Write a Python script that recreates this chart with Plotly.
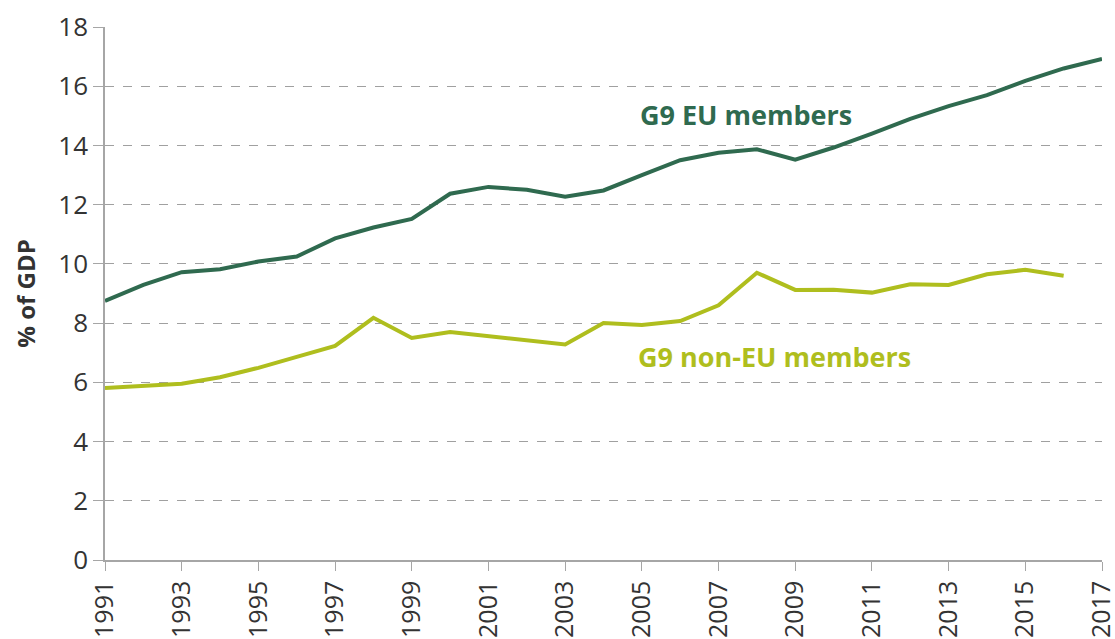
import plotly.graph_objects as go

years = list(range(1991, 2018))
eu_members = [8.75, 9.29, 9.72, 9.82, 10.08, 10.25, 10.86, 11.23, 11.52, 12.37, 12.6, 12.5, 12.27, 12.48,
              13.0, 13.5, 13.75, 13.87, 13.52, 13.93, 14.4, 14.9, 15.33, 15.7, 16.18, 16.6, 16.92]
non_eu_years = list(range(1991, 2017))
non_eu_members = [5.81, 5.88, 5.95, 6.17, 6.49, 6.86, 7.23, 8.18, 7.5, 7.7, 7.57, 7.43, 7.28, 8.0,
                  7.94, 8.07, 8.6, 9.7, 9.12, 9.13, 9.03, 9.31, 9.29, 9.65, 9.8, 9.6]
x_ticks = list(range(1991, 2018, 2))
y_ticks = list(range(0, 19, 2))

EU_COLOR = "#2f6a4f"
NON_EU_COLOR = "#afbe1e"

fig = go.Figure()
fig.add_trace(go.Scatter(x=years, y=eu_members, mode="lines", name="G9 EU members",
                         line=dict(color=EU_COLOR, width=4), showlegend=False))
fig.add_trace(go.Scatter(x=non_eu_years, y=non_eu_members, mode="lines", name="G9 non-EU members",
                         line=dict(color=NON_EU_COLOR, width=4), showlegend=False))

fig.add_annotation(x=2004.9, y=15.03, xref="x", yref="y", text="<b>G9 EU members</b>",
                   showarrow=False, xanchor="left", yanchor="middle",
                   font=dict(size=27, color=EU_COLOR, family="Open Sans"))
fig.add_annotation(x=2004.85, y=6.86, xref="x", yref="y", text="<b>G9 non-EU members</b>",
                   showarrow=False, xanchor="left", yanchor="middle",
                   font=dict(size=27, color=NON_EU_COLOR, family="Open Sans"))

fig.update_layout(
    width=1115, height=639,
    margin=dict(l=105, r=13, t=27, b=79),
    paper_bgcolor="white", plot_bgcolor="white",
    font=dict(family="Open Sans", color="#333333", size=22),
    xaxis=dict(range=[1991, 2017], tickvals=x_ticks, ticktext=[str(v) for v in x_ticks],
               tickangle=-90, showgrid=False, zeroline=False, automargin=False,
               ticklabeloverflow="allow",
               showline=True, linecolor="#a6a6a6", linewidth=1.5,
               ticks="outside", ticklen=9, tickcolor="#a6a6a6",
               tickfont=dict(size=25, color="#333333")),
    yaxis=dict(range=[0, 18], tickvals=y_ticks, showgrid=True, gridcolor="#a0a0a0",
               griddash="dash", gridwidth=1, zeroline=False, automargin=False,
               showline=True, linecolor="#a6a6a6", linewidth=1.5,
               ticks="outside", ticklen=10, tickcolor="#a6a6a6",
               tickfont=dict(size=26, color="#333333"),
               title=dict(text="<b>% of GDP</b>", font=dict(size=24, color="#333333"), standoff=16)),
)

fig.write_html("out.html", config={"displayModeBar": False},
               post_script="document.body.style.margin='0';document.body.style.overflow='hidden';")
